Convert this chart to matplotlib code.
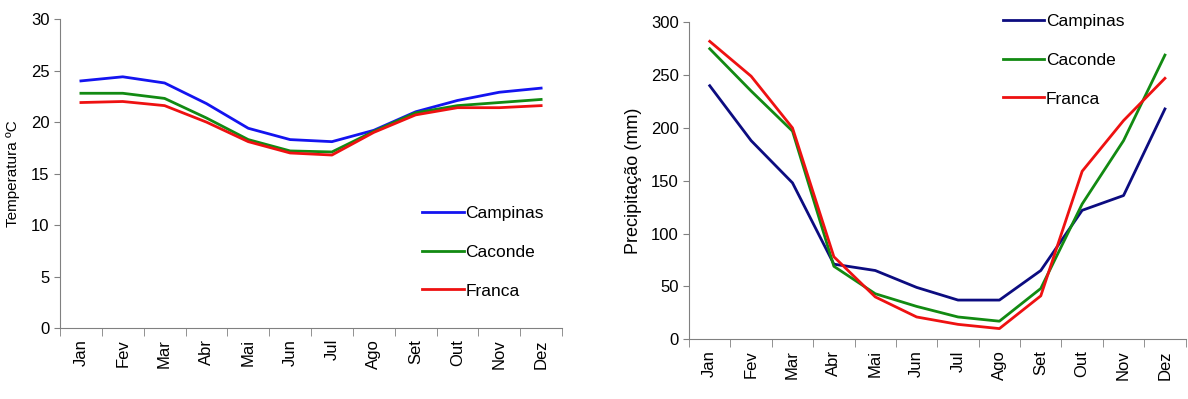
import matplotlib
matplotlib.use("Agg")
import matplotlib.pyplot as plt
import numpy as np

plt.rcParams['font.family'] = ['Liberation Sans', 'DejaVu Sans']

# Month labels (Portuguese)
meses = ['Jan', 'Fev', 'Mar', 'Abr', 'Mai', 'Jun', 'Jul', 'Ago', 'Set', 'Out', 'Nov', 'Dez']

# Temperature (ºC)
temp_campinas = [24.0, 24.4, 23.8, 21.8, 19.4, 18.3, 18.1, 19.2, 21.0, 22.1, 22.9, 23.3]
temp_caconde = [22.8, 22.8, 22.3, 20.4, 18.3, 17.2, 17.1, 19.1, 20.9, 21.6, 21.9, 22.2]
temp_franca = [21.9, 22.0, 21.6, 20.0, 18.1, 17.0, 16.8, 19.0, 20.7, 21.4, 21.4, 21.6]

# Precipitation (mm)
prec_campinas = [240, 188, 148, 71, 65, 49, 37, 37, 65, 122, 136, 218]
prec_caconde = [275, 235, 197, 69, 43, 31, 21, 17, 48, 128, 188, 269]
prec_franca = [282, 249, 200, 78, 40, 21, 14, 10, 41, 159, 207, 247]

fig = plt.figure(figsize=(11.88, 3.99), dpi=100)
ax1 = fig.add_axes([0.0505, 0.178, 0.4226, 0.774])
ax2 = fig.add_axes([0.58, 0.150, 0.418, 0.794])

x = np.arange(len(meses))


def style_axis(ax):
    ax.spines['top'].set_visible(False)
    ax.spines['right'].set_visible(False)
    ax.spines['left'].set_color('#808080')
    ax.spines['bottom'].set_color('#808080')
    ax.set_xlim(-0.5, len(meses) - 0.5)
    ax.set_xticks(x)
    ax.set_xticklabels(meses, rotation=90, fontsize=12)
    ax.set_xticks(np.arange(-0.5, len(meses), 1.0), minor=True)
    ax.tick_params(axis='x', which='major', length=0, pad=8)
    ax.tick_params(axis='x', which='minor', length=6, direction='out', color='#808080')
    ax.tick_params(axis='y', length=4, direction='out', color='#808080', labelsize=12)


# Left: temperature
ax1.plot(x, temp_campinas, color='#1414f0', lw=2, label='Campinas')
ax1.plot(x, temp_caconde, color='#128a12', lw=2, label='Caconde')
ax1.plot(x, temp_franca, color='#ee1111', lw=2, label='Franca')
style_axis(ax1)
ax1.set_ylim(0, 30)
ax1.set_yticks(range(0, 31, 5))
ax1.set_ylabel('Temperatura ºC', fontsize=11, labelpad=8)
ax1.legend(loc='upper left', bbox_to_anchor=(0.69, 0.445), frameon=False, fontsize=12.5,
           handlelength=2.4, handletextpad=0.1, labelspacing=1.35)

# Right: precipitation
ax2.plot(x, prec_campinas, color='#0c0c80', lw=2, label='Campinas')
ax2.plot(x, prec_caconde, color='#128a12', lw=2, label='Caconde')
ax2.plot(x, prec_franca, color='#ee1111', lw=2, label='Franca')
style_axis(ax2)
ax2.set_ylim(0, 300)
ax2.set_yticks(range(0, 301, 50))
ax2.set_ylabel('Precipitação (mm)', fontsize=13, labelpad=6)
ax2.legend(loc='upper left', bbox_to_anchor=(0.6, 1.075), frameon=False, fontsize=12.5,
           handlelength=2.4, handletextpad=0.1, labelspacing=1.35)

fig.savefig('out.png', dpi=100)
